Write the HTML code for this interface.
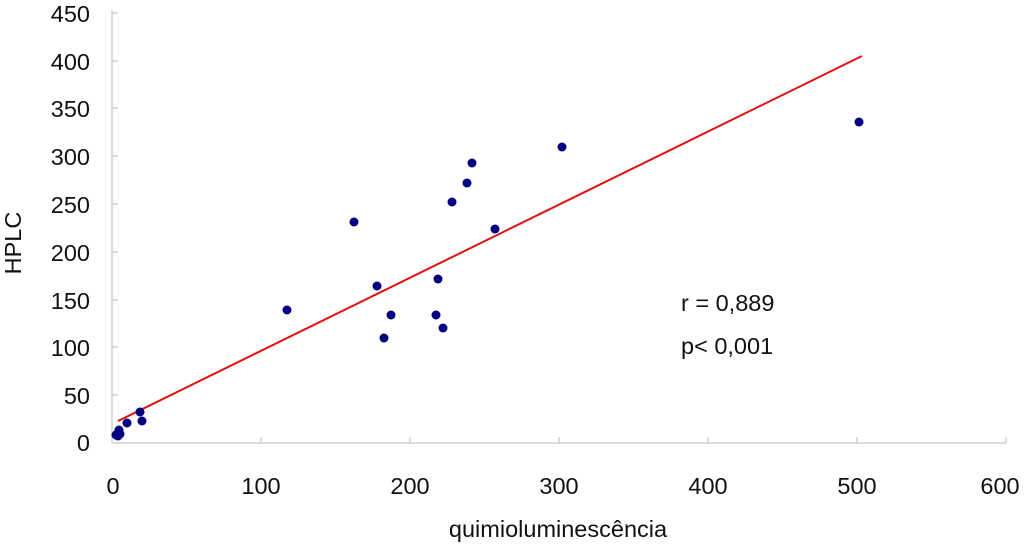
<!DOCTYPE html>
<html><head><style>body{margin:0;background:#fff}svg{display:block}text{font-family:"Liberation Sans",sans-serif;fill:#111;font-size:23.5px}</style></head><body>
<svg width="1024" height="548" viewBox="0 0 1024 548">
<g stroke="#d0d0d0" stroke-width="1.5" fill="none">
<line x1="112" y1="10" x2="112" y2="443"/><line x1="112" y1="443" x2="1006" y2="443"/>
<path d="M112 13h6M112 61h6M112 108h6M112 156h6M112 204h6M112 252h6M112 300h6M112 347h6M112 395h6"/>
<path d="M261 443v-6M410 443v-6M559 443v-6M708 443v-6M857 443v-6M1006 443v-6"/>
</g>
<g text-anchor="end">
<text x="90" y="22">450</text><text x="90" y="70">400</text><text x="90" y="117">350</text><text x="90" y="165">300</text><text x="90" y="213">250</text><text x="90" y="261">200</text><text x="90" y="309">150</text><text x="90" y="356">100</text><text x="90" y="404">50</text><text x="90" y="451">0</text>
</g>
<g text-anchor="middle">
<text x="113" y="494">0</text><text x="261" y="494">100</text><text x="410" y="494">200</text><text x="559" y="494">300</text><text x="708" y="494">400</text><text x="857" y="494">500</text><text x="1000" y="494">600</text>
<text x="558" y="537">quimioluminescência</text>
<text transform="translate(21,243) rotate(-90)">HPLC</text>
</g>
<text x="681" y="311">r = 0,889</text><text x="681" y="354">p&lt; 0,001</text>
<line x1="118" y1="421" x2="862" y2="56" stroke="#e01010" stroke-width="2"/>
<g fill="#000080">
<circle cx="117" cy="434" r="4.5"/><circle cx="119" cy="430" r="4.5"/><circle cx="116" cy="435" r="4.5"/><circle cx="120" cy="434" r="4.5"/><circle cx="127" cy="423" r="4.5"/><circle cx="140" cy="412" r="4.5"/><circle cx="142" cy="421" r="4.5"/><circle cx="287" cy="310" r="4.5"/><circle cx="354" cy="222" r="4.5"/><circle cx="377" cy="286" r="4.5"/><circle cx="384" cy="338" r="4.5"/><circle cx="391" cy="315" r="4.5"/><circle cx="436" cy="315" r="4.5"/><circle cx="438" cy="279" r="4.5"/><circle cx="443" cy="328" r="4.5"/><circle cx="452" cy="202" r="4.5"/><circle cx="467" cy="183" r="4.5"/><circle cx="472" cy="163" r="4.5"/><circle cx="495" cy="229" r="4.5"/><circle cx="562" cy="147" r="4.5"/><circle cx="859" cy="122" r="4.5"/><circle cx="118" cy="436" r="4.5"/>
</g>
</svg>
</body></html>
